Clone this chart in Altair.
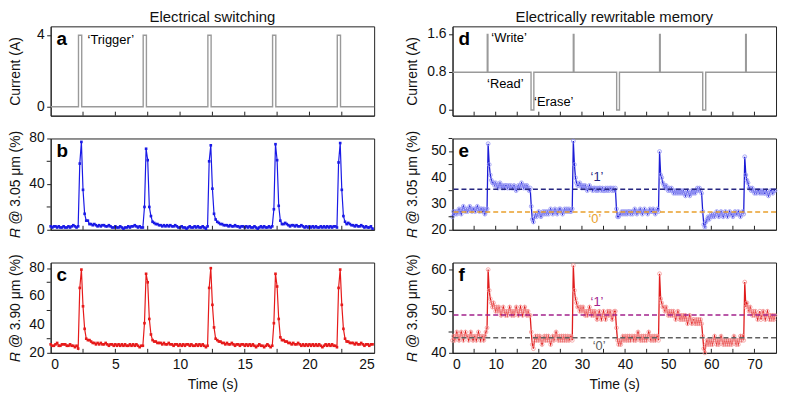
import altair as alt
import pandas as pd

FONT = "Liberation Sans"
W = 326
H_TOP, H_MID, H_BOT = 90, 92, 91

# ---------------- data ----------------
# (a) trigger current pulses
trig_t = [0, 2.15, 2.15, 2.4, 2.4, 7.15, 7.15, 7.4, 7.4, 12.15, 12.15, 12.4, 12.4,
          17.15, 17.15, 17.4, 17.4, 22.15, 22.15, 22.4, 22.4, 25]
trig_i = [0, 0, 4, 4, 0, 0, 4, 4, 0, 0, 4, 4, 0, 0, 4, 4, 0, 0, 4, 4, 0, 0]

# (d) write / read / erase current
mem_t = [0, 8.05, 8.05, 8.2, 8.2, 18.2, 18.2, 18.85, 18.85, 28.0, 28.0, 28.15, 28.15,
         38.05, 38.05, 38.7, 38.7, 48.0, 48.0, 48.15, 48.15, 58.0, 58.0, 58.7, 58.7,
         67.95, 67.95, 68.1, 68.1, 75]
mem_i = [0.8, 0.8, 1.6, 1.6, 0.8, 0.8, 0, 0, 0.8, 0.8, 1.6, 1.6, 0.8, 0.8, 0, 0, 0.8,
         0.8, 1.6, 1.6, 0.8, 0.8, 0, 0, 0.8, 0.8, 1.6, 1.6, 0.8, 0.8]

# (b) reflectance at 3.05 um, sampled every 0.125 s
b_p0 = [3, 2, 3, 3, 2, 3, 2, 2, 3, 2, 2, 3, 2, 3, 4, 3, 2, 3, 58, 77,
        35, 14, 8, 8, 5, 5, 4, 5, 4, 3, 4, 3, 4, 4, 3, 3, 4, 3, 2, 2]
b_p1 = [3, 2, 2, 3, 2, 1, 2, 2, 3, 2, 3, 3, 4, 3, 2, 3, 2, 2, 20, 71,
        61, 20, 12, 7, 6, 5, 5, 4, 4, 3, 4, 3, 4, 3, 4, 3, 3, 4, 3, 2]
b_p2 = [2, 3, 2, 2, 1, 2, 3, 2, 2, 3, 2, 3, 2, 2, 3, 2, 1, 3, 60, 74,
        36, 14, 9, 7, 6, 5, 5, 4, 4, 4, 3, 4, 3, 3, 4, 3, 3, 2, 3, 3]
b_p3 = [2, 3, 2, 3, 2, 2, 3, 2, 1, 2, 3, 2, 3, 2, 2, 3, 2, 3, 18, 75,
        61, 21, 8, 5, 5, 6, 5, 4, 3, 4, 4, 3, 4, 3, 3, 4, 3, 2, 3, 2]
b_p4 = [3, 2, 3, 2, 3, 2, 2, 3, 2, 3, 2, 3, 2, 3, 2, 3, 3, 2, 59, 76,
        35, 12, 7, 5, 6, 5, 4, 4, 3, 4, 3, 3, 4, 3, 2, 3, 2, 2, 3, 1]

# (c) reflectance at 3.90 um
c_p0 = [26, 25, 25, 26, 27, 25, 25, 26, 26, 26, 25, 25, 26, 25, 25, 24, 25, 23, 66, 79,
        53, 37, 30, 29, 29, 28, 27, 27, 26, 27, 26, 27, 26, 26, 27, 26, 25, 26, 26, 25]
c_p1 = [26, 25, 26, 25, 26, 25, 26, 25, 25, 26, 25, 26, 25, 26, 25, 24, 25, 25, 41, 76,
        70, 44, 33, 29, 28, 28, 27, 27, 27, 26, 27, 26, 26, 27, 26, 26, 25, 26, 26, 25]
c_p2 = [26, 25, 26, 25, 26, 26, 25, 26, 25, 25, 26, 25, 26, 25, 26, 25, 24, 25, 66, 80,
        54, 38, 30, 29, 28, 28, 27, 27, 26, 27, 26, 26, 27, 26, 25, 26, 26, 25, 26, 26]
c_p3 = [25, 26, 25, 26, 25, 26, 25, 24, 25, 26, 25, 25, 24, 25, 26, 25, 24, 25, 41, 76,
        67, 44, 31, 29, 29, 28, 28, 27, 27, 26, 27, 26, 26, 27, 26, 25, 26, 25, 26, 25]
c_p4 = [26, 25, 26, 25, 26, 25, 26, 25, 24, 25, 26, 25, 26, 25, 26, 25, 25, 24, 66, 79,
        54, 37, 30, 28, 28, 27, 27, 27, 26, 27, 26, 26, 27, 26, 25, 26, 26, 25, 26, 26]

# (e) reflectance at 3.05 um, memory, sampled every 0.25 s
e_sA = [25, 27, 26, 27, 26, 27, 28, 27, 26, 28, 29, 28, 27, 28, 27, 28, 29, 28, 27, 28,
        28, 27, 28, 29, 28, 27, 28, 28, 27, 28, 26, 27, 28]
e_sB = [53, 45, 41, 39, 38, 38, 37, 38, 37, 36, 37, 38, 37, 36, 37, 36, 37, 37, 36, 37,
        36, 37, 36, 36, 37, 36, 35, 36, 37, 36, 37, 38, 37, 36, 37, 36, 37, 36, 35, 36]
e_sC = [29, 24, 23, 25, 26, 25, 26, 27, 26, 25, 26, 27, 26, 27, 26, 27, 26, 27, 28, 27,
        26, 27, 28, 27, 26, 27, 28, 28, 27, 26, 27, 28, 27, 28, 27, 28, 27, 27, 28]
e_sD = [54, 45, 40, 38, 37, 37, 38, 37, 36, 37, 36, 37, 36, 35, 36, 37, 36, 36, 35, 36,
        36, 35, 36, 35, 36, 36, 35, 36, 35, 35, 36, 35, 36, 35, 36, 36, 35, 36, 35, 36]
e_sE = [28, 25, 25, 26, 26, 27, 26, 27, 26, 27, 26, 27, 27, 26, 27, 26, 27, 28, 27, 26,
        27, 27, 28, 27, 26, 27, 28, 27, 27, 26, 27, 28, 27, 27, 28, 27, 26, 27, 28, 27]
e_sF = [50, 41, 40, 38, 37, 36, 37, 36, 35, 36, 35, 36, 35, 34, 35, 34, 35, 34, 35, 34,
        35, 34, 35, 34, 33, 34, 35, 34, 33, 34, 35, 34, 35, 34, 35, 36, 35, 36, 35, 34]
e_sG = [27, 22, 21, 23, 24, 25, 24, 25, 26, 25, 26, 25, 26, 27, 26, 25, 26, 27, 26, 25,
        26, 27, 26, 25, 26, 27, 26, 26, 25, 26, 27, 26, 26, 27, 26, 25, 26, 27, 26]
e_sH = [48, 41, 39, 38, 36, 36, 35, 36, 35, 34, 35, 34, 35, 35, 34, 35, 34, 35, 34, 34,
        35, 34, 33, 34, 35, 35, 34, 35, 35]

# (f) reflectance at 3.90 um, memory
f_sA = [43, 44, 43, 44, 45, 44, 43, 44, 45, 44, 43, 44, 45, 44, 44, 43, 44, 45, 44, 43,
        44, 44, 43, 44, 45, 44, 43, 44, 44, 43, 44, 45, 46]
f_sB = [60, 55, 53, 52, 51, 52, 51, 50, 51, 50, 51, 50, 49, 50, 51, 50, 49, 50, 49, 50,
        51, 50, 49, 50, 49, 50, 51, 50, 49, 50, 51, 50, 49, 50, 51, 50, 49, 50, 49, 49]
f_sC = [45, 42, 41, 43, 44, 43, 44, 43, 44, 43, 42, 43, 44, 43, 44, 43, 44, 43, 42, 43,
        44, 43, 44, 45, 44, 43, 44, 43, 44, 43, 44, 43, 44, 43, 44, 43, 44, 44, 43]
f_sD = [61, 55, 53, 52, 51, 51, 50, 51, 50, 51, 50, 49, 50, 49, 50, 51, 50, 49, 50, 49,
        50, 49, 48, 49, 50, 49, 48, 49, 50, 49, 48, 49, 50, 49, 50, 49, 48, 49, 50, 50]
f_sE = [46, 43, 42, 43, 42, 43, 44, 43, 44, 43, 44, 43, 44, 43, 44, 44, 43, 44, 43, 44,
        45, 44, 43, 44, 43, 44, 43, 44, 43, 44, 45, 44, 43, 44, 43, 44, 43, 44, 44, 43]
f_sF = [59, 53, 52, 51, 51, 50, 51, 50, 49, 50, 49, 50, 49, 50, 49, 48, 49, 50, 49, 48,
        49, 48, 49, 48, 49, 48, 47, 48, 49, 48, 47, 48, 48, 47, 48, 47, 48, 47, 48, 47]
f_sG = [44, 41, 40, 42, 43, 42, 43, 42, 43, 42, 43, 44, 43, 42, 43, 42, 43, 44, 43, 42,
        43, 42, 43, 42, 43, 42, 43, 42, 43, 44, 43, 42, 43, 42, 43, 44, 43, 44, 43]
f_sH = [57, 51, 52, 51, 50, 51, 50, 49, 50, 49, 50, 49, 48, 49, 50, 48, 49, 50, 49, 48,
        49, 50, 49, 48, 49, 48, 49, 48, 49]

# reference levels for states '1' and '0'
e_levels = [35.5, 26.8]
f_levels = [49.1, 43.6]
level_colors_e = ["#262680", "#e9a02c"]
level_colors_f = ["#a3228c", "#606060"]

# tick positions and tick labels
left_ticks = [2.5, 5, 7.5, 10, 12.5, 15, 17.5, 20, 22.5]
right_ticks = [5, 10, 15, 20, 25, 30, 35, 40, 45, 50, 55, 60, 65, 70]
a_yt, a_yl = [0, 4], ["0", "4"]
b_yt, b_yl = [0, 40, 80], ["0", "40", "80"]
c_yt, c_yl = [20, 40, 60, 80], ["20", "40", "60", "80"]
d_yt, d_yl = [0, 0.8, 1.6], ["0", "0.8", "1.6"]
e_yt, e_yl = [20, 30, 40, 50], ["20", "30", "40", "50"]
f_yt, f_yl = [40, 50, 60], ["40", "50", "60"]
b_minor = [20, 60]
c_minor = [30, 50, 70]
e_minor = [25, 35, 45, 55]
f_minor = [45, 55]

# ---------------- tables ----------------
b_vals = b_p0 + b_p1 + b_p2 + b_p3 + b_p4
c_vals = c_p0 + c_p1 + c_p2 + c_p3 + c_p4
t_left = [i * 0.125 for i in range(len(b_vals))]
e_vals = e_sA + e_sB + e_sC + e_sD + e_sE + e_sF + e_sG + e_sH
f_vals = f_sA + f_sB + f_sC + f_sD + f_sE + f_sF + f_sG + f_sH
t_right = [i * 0.25 for i in range(len(e_vals))]

df_a = pd.DataFrame({"t": trig_t, "v": trig_i, "k": list(range(len(trig_t)))})
df_d = pd.DataFrame({"t": mem_t, "v": mem_i, "k": list(range(len(mem_t)))})
df_b = pd.DataFrame({"t": t_left, "v": b_vals})
df_c = pd.DataFrame({"t": t_left, "v": c_vals})
df_e = pd.DataFrame({"t": t_right, "v": e_vals})
df_f = pd.DataFrame({"t": t_right, "v": f_vals})

XL = [0, 25]
XR = [0, 75]


def xscale(dom):
    return alt.Scale(domain=dom, nice=False, zero=False)


def yscale(dom):
    return alt.Scale(domain=dom, nice=False, zero=False)


def yaxis(title, values, pad):
    return alt.Axis(title=title, values=values, labels=False, tickSize=4,
                    titlePadding=pad, grid=False)


def xaxis(show_labels, values):
    if show_labels:
        return alt.Axis(title="Time (s)", values=values, format="d", ticks=False,
                        labelOverlap=False, labelPadding=5, titlePadding=6, grid=False)
    return alt.Axis(title=None, labels=False, ticks=False, grid=False)


def ylabels(vals, texts, ydom):
    return alt.Chart(pd.DataFrame({"v": vals, "s": texts})).mark_text(
        font=FONT, fontSize=14, align="right", baseline="middle", color="#111").encode(
        y=alt.Y("v:Q", scale=yscale(ydom)), x=alt.value(-6), text="s:N")


def inner_ticks(vals, dom, h):
    return alt.Chart(pd.DataFrame({"t": vals})).mark_rule(
        color="#222", strokeWidth=1).encode(
        x=alt.X("t:Q", scale=xscale(dom)),
        y=alt.value(h), y2=alt.value(h - 4))


def minor_yticks(vals, ydom):
    return alt.Chart(pd.DataFrame({"v": vals})).mark_rule(
        color="#222", strokeWidth=1).encode(
        y=alt.Y("v:Q", scale=yscale(ydom)),
        x=alt.value(-4), x2=alt.value(0))


def letter(ch):
    return alt.Chart(pd.DataFrame({"l": [ch]})).mark_text(
        font=FONT, fontSize=19, fontWeight="bold", align="left",
        baseline="middle", color="black").encode(
        text="l:N", x=alt.value(6), y=alt.value(13))


def note(x, y, txt, color="black", align="left", dom=None, ydom=None, size=13):
    return alt.Chart(pd.DataFrame({"t": [x], "v": [y], "s": [txt]})).mark_text(
        font=FONT, fontSize=size, align=align, baseline="middle", color=color).encode(
        x=alt.X("t:Q", scale=xscale(dom)),
        y=alt.Y("v:Q", scale=yscale(ydom)),
        text="s:N")


def level_rules(levels, colors, ydom):
    return alt.Chart(pd.DataFrame({"v": levels, "c": colors})).mark_rule(
        strokeDash=[5, 3], strokeWidth=1.5).encode(
        y=alt.Y("v:Q", scale=yscale(ydom)),
        color=alt.Color("c:N", scale=None))


TITLE_KW = dict(font=FONT, fontSize=15, fontWeight="normal", anchor="middle",
                frame="group", offset=1, color="#111")
PAD_L = 24
PAD_R = 29

# ---------- (a) ----------
ya = [-0.5, 4.5]
a_line = alt.Chart(df_a).mark_line(color="#9a9a9a", strokeWidth=1.4).encode(
    x=alt.X("t:Q", scale=xscale(XL), axis=xaxis(False, None)),
    y=alt.Y("v:Q", scale=yscale(ya), axis=yaxis("Current (A)", a_yt, PAD_L)),
    order="k:Q")
chart_a = alt.layer(
    a_line, ylabels(a_yt, a_yl, ya), inner_ticks(left_ticks, XL, H_TOP), letter("a"),
    note(2.85, 3.72, "‘Trigger’", dom=XL, ydom=ya)
).properties(width=W, height=H_TOP,
             title=alt.TitleParams("Electrical switching", **TITLE_KW))

# ---------- (b) ----------
yb = [0, 80]
b_enc = dict(
    x=alt.X("t:Q", scale=xscale(XL), axis=xaxis(False, None)),
    y=alt.Y("v:Q", scale=yscale(yb), axis=yaxis("𝑅 @ 3.05 μm (%)", b_yt, PAD_L)))
chart_b = alt.layer(
    alt.Chart(df_b).mark_line(color="#1a1ae6", strokeWidth=1.2).encode(**b_enc),
    alt.Chart(df_b).mark_square(color="#1a1ae6", size=7, opacity=1).encode(**b_enc),
    ylabels(b_yt, b_yl, yb), minor_yticks(b_minor, yb),
    inner_ticks(left_ticks, XL, H_MID), letter("b")
).properties(width=W, height=H_MID)

# ---------- (c) ----------
yc = [20, 84]
c_enc = dict(
    x=alt.X("t:Q", scale=xscale(XL), axis=xaxis(True, [0, 5, 10, 15, 20, 25])),
    y=alt.Y("v:Q", scale=yscale(yc), axis=yaxis("𝑅 @ 3.90 μm (%)", c_yt, PAD_L)))
chart_c = alt.layer(
    alt.Chart(df_c).mark_line(color="#e61a1a", strokeWidth=1.2).encode(**c_enc),
    alt.Chart(df_c).mark_square(color="#e61a1a", size=7, opacity=1).encode(**c_enc),
    ylabels(c_yt, c_yl, yc), minor_yticks(c_minor, yc),
    inner_ticks(left_ticks, XL, H_BOT), letter("c")
).properties(width=W, height=H_BOT)

# ---------- (d) ----------
yd = [-0.12, 1.77]
d_line = alt.Chart(df_d).mark_line(color="#9a9a9a", strokeWidth=1.4).encode(
    x=alt.X("t:Q", scale=xscale(XR), axis=xaxis(False, None)),
    y=alt.Y("v:Q", scale=yscale(yd), axis=yaxis("Current (A)", d_yt, PAD_R)),
    order="k:Q")
chart_d = alt.layer(
    d_line, ylabels(d_yt, d_yl, yd), inner_ticks(right_ticks, XR, H_TOP), letter("d"),
    note(9.0, 1.53, "‘Write’", dom=XR, ydom=yd),
    note(8.0, 0.55, "‘Read’", dom=XR, ydom=yd),
    note(18.9, 0.17, "‘Erase’", dom=XR, ydom=yd)
).properties(width=W, height=H_TOP,
             title=alt.TitleParams("Electrically rewritable memory", **TITLE_KW))

# ---------- (e) ----------
ye = [20, 55]
e_enc = dict(
    x=alt.X("t:Q", scale=xscale(XR), axis=xaxis(False, None)),
    y=alt.Y("v:Q", scale=yscale(ye), axis=yaxis("𝑅 @ 3.05 μm (%)", e_yt, PAD_R)))
chart_e = alt.layer(
    alt.Chart(df_e).mark_line(color="#1c1cd6", strokeWidth=1.3).encode(**e_enc),
    alt.Chart(df_e).mark_point(shape="circle", filled=False, size=15, strokeWidth=0.9,
                               color="#9494f5", opacity=0.9).encode(**e_enc),
    level_rules(e_levels, level_colors_e, ye),
    ylabels(e_yt, e_yl, ye), minor_yticks(e_minor, ye),
    inner_ticks(right_ticks, XR, H_MID), letter("e"),
    note(33.5, 40.3, "‘1’", color=level_colors_e[0], align="center", dom=XR, ydom=ye),
    note(33.0, 24.3, "‘0’", color=level_colors_e[1], align="center", dom=XR, ydom=ye)
).properties(width=W, height=H_MID)

# ---------- (f) ----------
yf = [40, 61.7]
f_enc = dict(
    x=alt.X("t:Q", scale=xscale(XR), axis=xaxis(True, [0, 10, 20, 30, 40, 50, 60, 70])),
    y=alt.Y("v:Q", scale=yscale(yf), axis=yaxis("𝑅 @ 3.90 μm (%)", f_yt, PAD_R)))
chart_f = alt.layer(
    alt.Chart(df_f).mark_line(color="#e01c1c", strokeWidth=1.3).encode(**f_enc),
    alt.Chart(df_f).mark_point(shape="circle", filled=False, size=15, strokeWidth=0.9,
                               color="#f59a9a", opacity=0.9).encode(**f_enc),
    level_rules(f_levels, level_colors_f, yf),
    ylabels(f_yt, f_yl, yf), minor_yticks(f_minor, yf),
    inner_ticks(right_ticks, XR, H_BOT), letter("f"),
    note(33.5, 52.2, "‘1’", color=level_colors_f[0], align="center", dom=XR, ydom=yf),
    note(34.0, 41.7, "‘0’", color=level_colors_f[1], align="center", dom=XR, ydom=yf)
).properties(width=W, height=H_BOT)

left = alt.vconcat(alt.vconcat(chart_a, chart_b, spacing=23, bounds="flush"),
                   chart_c, spacing=14)
right = alt.vconcat(alt.vconcat(chart_d, chart_e, spacing=23, bounds="flush"),
                    chart_f, spacing=14)

chart = alt.hconcat(left, right, spacing=27).properties(
    padding={"left": 0, "top": 0, "right": 0, "bottom": 0}
).configure_view(stroke="#222", strokeWidth=1).configure_axis(
    labelFont=FONT, labelFontSize=14, labelColor="#111",
    titleFont=FONT, titleFontSize=14, titleFontWeight="normal", titleColor="#111",
    domainColor="#222", tickColor="#222", domainWidth=1, tickWidth=1
)

chart.save("out.html", embed_options={"renderer": "svg", "actions": False})
